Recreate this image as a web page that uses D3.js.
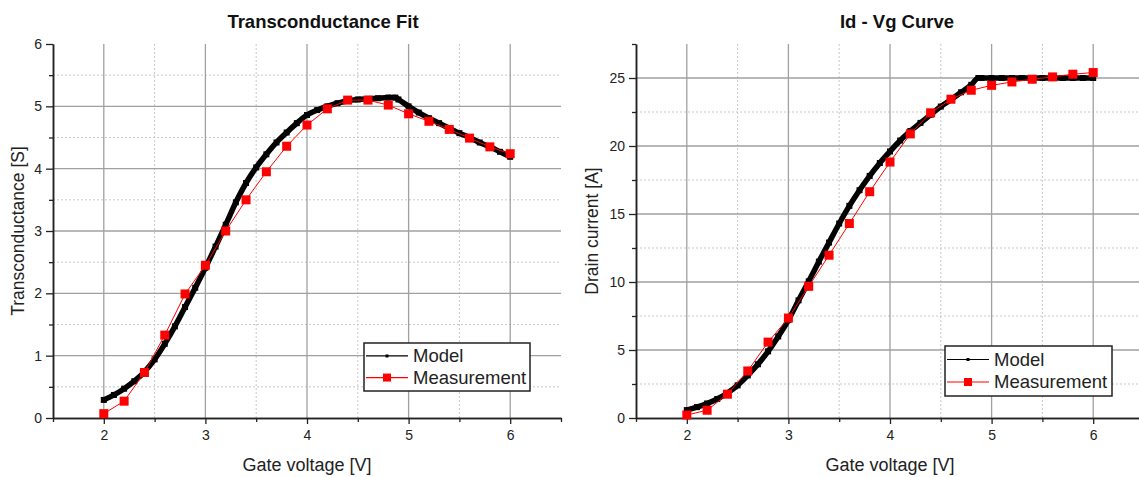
<!DOCTYPE html>
<html>
<head>
<meta charset="utf-8">
<script src="https://cdn.jsdelivr.net/npm/d3@7"></script>
<style>
  body { margin: 0; background: #fff; }
  svg { display: block; font-family: "Liberation Sans", Arial, sans-serif; }
  .domain { stroke: #222; stroke-width: 1.5px; }
  .tick line { stroke: #222; stroke-width: 1.3px; }
  .tick text { fill: #222; font-size: 14px; }
</style>
</head>
<body>
<div id="chart"></div>
<script>
// measurement points (gate voltage every 0.2 V)
const gateV = [2.0, 2.2, 2.4, 2.6, 2.8, 3.0, 3.2, 3.4, 3.6, 3.8, 4.0, 4.2, 4.4, 4.6, 4.8, 5.0, 5.2, 5.4, 5.6, 5.8, 6.0];
const gmMeasured = [0.07, 0.27, 0.73, 1.33, 1.99, 2.45, 3.0, 3.50, 3.95, 4.36, 4.70, 4.96, 5.10, 5.10, 5.02, 4.88, 4.76, 4.63, 4.49, 4.35, 4.24];
const idMeasured = [0.22, 0.57, 1.75, 3.46, 5.58, 7.35, 9.68, 11.97, 14.3, 16.64, 18.82, 20.89, 22.44, 23.44, 24.1, 24.46, 24.71, 24.91, 25.08, 25.28, 25.40];

// model curve samples
const modelV = [2.0, 2.1, 2.2, 2.3, 2.4, 2.5, 2.6, 2.7, 2.8, 2.9, 3.0, 3.1, 3.2, 3.3, 3.4, 3.5, 3.6, 3.7, 3.8, 3.9,
  4.0, 4.1, 4.2, 4.3, 4.4, 4.5, 4.6, 4.7, 4.8, 4.87, 4.9, 5.0, 5.1, 5.2, 5.3, 5.4, 5.5, 5.6, 5.7, 5.8, 5.9, 6.0];
const gmModel = [0.29, 0.37, 0.47, 0.59, 0.74, 0.94, 1.19, 1.47, 1.78, 2.09, 2.41, 2.75, 3.10, 3.46, 3.77, 4.02, 4.23, 4.42, 4.58, 4.73,
  4.86, 4.94, 5.00, 5.05, 5.09, 5.11, 5.12, 5.13, 5.14, 5.14, 5.11, 5.00, 4.90, 4.81, 4.73, 4.65, 4.57, 4.50, 4.42, 4.35, 4.27, 4.19];
const idModel = [0.58, 0.80, 1.07, 1.40, 1.84, 2.40, 3.13, 3.95, 4.90, 6.00, 7.20, 8.65, 10.05, 11.50, 12.90, 14.30, 15.60, 16.75, 17.80, 18.75,
  19.60, 20.40, 21.10, 21.70, 22.30, 22.90, 23.40, 23.95, 24.50, 25.0, 25.0, 25.0, 25.0, 25.0, 25.0, 25.0, 25.0, 25.0, 25.0, 25.0, 25.0, 25.0];

const seriesNames = ["Model", "Measurement"];

const width = 1139, height = 477;
const svg = d3.select("#chart").append("svg")
  .attr("width", width)
  .attr("height", height);
svg.append("rect").attr("width", width).attr("height", height).attr("fill", "#fff");

function drawPanel(cfg) {
  const x = d3.scaleLinear().domain([1.5, 6.5]).range([cfg.left, cfg.left + 508]);
  const y = d3.scaleLinear().domain([0, cfg.yMax]).range([418, 44]);
  const g = svg.append("g");

  const xMajor = [2, 3, 4, 5, 6];
  const xMinor = d3.range(1.5, 6.51, 0.5).filter(v => !xMajor.includes(v));
  const yMajor = d3.range(0, cfg.yMax + 0.001, cfg.yStep);
  const yMinor = d3.range(0, cfg.yMax + 0.001, cfg.yStep / 2).filter(v => !yMajor.includes(v));

  // grid
  const grid = g.append("g");
  grid.selectAll(".vmin").data(xMinor.filter(v => v > 1.5 && v < 6.5)).join("line")
    .attr("x1", d => x(d)).attr("x2", d => x(d)).attr("y1", y(0)).attr("y2", y(cfg.yMax))
    .attr("stroke", "#c8c8c8").attr("stroke-dasharray", "2,2");
  grid.selectAll(".hmin").data(yMinor.filter(v => v < cfg.yMax)).join("line")
    .attr("x1", x(1.5)).attr("x2", x(6.5)).attr("y1", d => y(d)).attr("y2", d => y(d))
    .attr("stroke", "#c8c8c8").attr("stroke-dasharray", "2,2");
  grid.selectAll(".vmaj").data(xMajor).join("line")
    .attr("x1", d => x(d)).attr("x2", d => x(d)).attr("y1", y(0)).attr("y2", y(cfg.yMax))
    .attr("stroke", "#a0a0a0").attr("stroke-width", 1.3);
  grid.selectAll(".hmaj").data(yMajor.filter(v => v > 0 && v < cfg.yMax)).join("line")
    .attr("x1", x(1.5)).attr("x2", x(6.5)).attr("y1", d => y(d)).attr("y2", d => y(d))
    .attr("stroke", "#a0a0a0").attr("stroke-width", 1.3);

  // axes
  g.append("g").attr("transform", "translate(0,418)")
    .call(d3.axisBottom(x).tickValues(xMinor).tickSize(4).tickSizeOuter(0).tickFormat(""));
  g.append("g").attr("transform", "translate(0,418)")
    .call(d3.axisBottom(x).tickValues(xMajor).tickSize(6).tickSizeOuter(0).tickPadding(6).tickFormat(d3.format("d")));
  g.append("g").attr("transform", `translate(${x(1.5)},0)`)
    .call(d3.axisLeft(y).tickValues(yMinor).tickSize(4).tickSizeOuter(0).tickFormat(""));
  g.append("g").attr("transform", `translate(${x(1.5)},0)`)
    .call(d3.axisLeft(y).tickValues(yMajor).tickSize(7).tickSizeOuter(0).tickPadding(4).tickFormat(d3.format("d")));

  const meas = gateV.map((v, i) => [v, cfg.measured[i]]);
  const model = modelV.map((v, i) => [v, cfg.model[i]]);

  // model: thick black line of dense small squares
  g.append("path").datum(model)
    .attr("d", d3.line().x(d => x(d[0])).y(d => y(d[1])).curve(d3.curveMonotoneX))
    .attr("fill", "none").attr("stroke", "#000").attr("stroke-width", 5.5).attr("stroke-linejoin", "round");
  g.selectAll(".mdot").data(model).join("rect")
    .attr("x", d => x(d[0]) - 3).attr("y", d => y(d[1]) - 3)
    .attr("width", 6).attr("height", 6).attr("fill", "#000");

  // measurement
  g.append("path").datum(meas)
    .attr("d", d3.line().x(d => x(d[0])).y(d => y(d[1])))
    .attr("fill", "none").attr("stroke", "#ff0000").attr("stroke-width", 1);
  g.selectAll(".sq").data(meas).join("rect")
    .attr("x", d => x(d[0]) - 4.5).attr("y", d => y(d[1]) - 4.5)
    .attr("width", 9).attr("height", 9).attr("fill", "#ff0000");

  // titles
  const cx = (x(1.5) + x(6.5)) / 2;
  g.append("text").attr("x", cfg.titleX).attr("y", 28).attr("text-anchor", "middle")
    .attr("font-size", 18.5).attr("font-weight", "bold").attr("fill", "#111").text(cfg.title);
  g.append("text").attr("x", cx).attr("y", 471).attr("text-anchor", "middle")
    .attr("font-size", 18).attr("fill", "#222").text("Gate voltage [V]");
  g.append("text").attr("transform", `translate(${cfg.yLabelX},231) rotate(-90)`)
    .attr("text-anchor", "middle").attr("font-size", 17.5).attr("fill", "#222").text(cfg.yLabel);

  // legend
  const lg = g.append("g").attr("transform", `translate(${cfg.legend[0]},${cfg.legend[1]})`);
  lg.append("rect").attr("width", cfg.legend[2]).attr("height", cfg.legend[3])
    .attr("fill", "#fff").attr("stroke", "#222").attr("stroke-width", 1.5);
  const rowY = [cfg.legend[3] * 0.27, cfg.legend[3] * 0.72];
  seriesNames.forEach((name, i) => {
    const col = i === 0 ? "#000" : "#ff0000";
    const s = i === 0 ? 3 : 8;
    lg.append("line").attr("x1", 2).attr("x2", 44).attr("y1", rowY[i]).attr("y2", rowY[i])
      .attr("stroke", col).attr("stroke-width", 1.2);
    lg.append("rect").attr("x", 23 - s / 2).attr("y", rowY[i] - s / 2).attr("width", s).attr("height", s).attr("fill", col);
    lg.append("text").attr("x", 49).attr("y", rowY[i]).attr("dy", "0.35em")
      .attr("font-size", 18.5).attr("fill", "#222").text(name);
  });
}

drawPanel({
  left: 53, yMax: 6, yStep: 1, measured: gmMeasured, model: gmModel,
  title: "Transconductance Fit", titleX: 323, yLabel: "Transconductance [S]", yLabelX: 24,
  legend: [364, 343, 166, 48]
});
drawPanel({
  left: 636, yMax: 27.5, yStep: 5, measured: idMeasured, model: idModel,
  title: "Id - Vg Curve", titleX: 897, yLabel: "Drain current [A]", yLabelX: 598,
  legend: [945, 346, 167, 50]
});
</script>
</body>
</html>
